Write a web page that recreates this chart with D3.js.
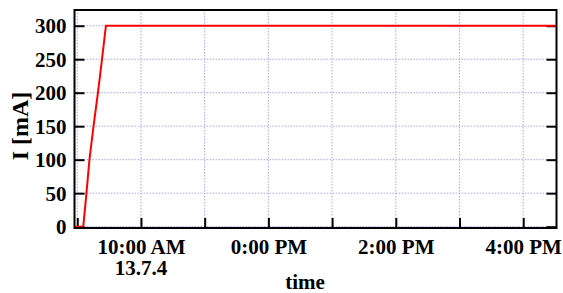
<!DOCTYPE html>
<html><head><meta charset="utf-8">
<script src="https://cdn.jsdelivr.net/npm/d3@7"></script>
<style>body{margin:0;background:#fff}svg{display:block}
text{font-family:"Liberation Serif","Times New Roman",Times,serif !important;font-weight:bold}</style>
</head><body>
<script>
// Data (time of day on 2013-07-04, current in mA)
const times = ["08:57:40","09:05:40","09:08:40","09:11:30","09:15:20","09:19:30","09:23:20","09:27:00","16:30:00"];
const values = [0,0,50,100,150,200,250,300,300];
const yTicks = [0,50,100,150,200,250,300];
const xTickHours = [9,10,11,12,13,14,15,16];
const xLabelHours = [10,12,14,16];
const xLabels = ["10:00 AM","0:00 PM","2:00 PM","4:00 PM"];
const dateLabel = "13.7.4";

const W=563,H=293;
const m={left:74.5,top:10,right:556.5,bottom:228};
const day = "2013-07-04T";
const parse = s => new Date(day+s);
const hourDate = h => new Date(2013,6,4,h,0,0);

const svg=d3.select("body").append("svg").attr("width",W).attr("height",H);
const x=d3.scaleTime().domain([parse("08:57:25"),parse("16:31:20")]).range([m.left,m.right]);
const y=d3.scaleLinear().domain([-2,323.5]).range([m.bottom,m.top]);

// grid
const g=svg.append("g").attr("stroke","#a8a8f0").attr("stroke-width",1).attr("stroke-dasharray","1.5,1.5");
yTicks.forEach(v=>g.append("line").attr("x1",m.left).attr("x2",m.right).attr("y1",y(v)).attr("y2",y(v)));
xTickHours.forEach(h=>g.append("line").attr("x1",x(hourDate(h))).attr("x2",x(hourDate(h))).attr("y1",m.top).attr("y2",m.bottom));

// axes via d3
const yAxisL=d3.axisLeft(y).tickValues(yTicks).tickSize(-10).tickPadding(18).tickFormat(d3.format("d"));
const yAxisR=d3.axisRight(y).tickValues(yTicks).tickSize(-10).tickFormat("");
const xAxisB=d3.axisBottom(x).tickValues(xTickHours.map(hourDate)).tickSize(-10).tickPadding(20)
  .tickFormat(d=>{const i=xLabelHours.indexOf(d.getHours());return i>=0?xLabels[i]:"";});

const gl=svg.append("g").attr("transform",`translate(${m.left},0)`).call(yAxisL);
const gr=svg.append("g").attr("transform",`translate(${m.right},0)`).call(yAxisR);
const gb=svg.append("g").attr("transform",`translate(0,${m.bottom})`).call(xAxisB);
[gl,gr,gb].forEach(a=>{
  a.attr("font-family",null).attr("font-size",null);
  a.select(".domain").remove();
  a.selectAll(".tick line").attr("stroke","#000").attr("stroke-width",2);
  a.selectAll("text").attr("font-size",21).attr("fill","#000");
});
gl.selectAll("text").attr("x",-8).attr("dy","0.34em");
gb.selectAll("text").attr("dy",0).attr("y",25.5);

// date label under first labeled tick
svg.append("text").attr("x",x(hourDate(xLabelHours[0]))).attr("y",275).attr("text-anchor","middle")
  .attr("font-size",21).text(dateLabel);

// line
svg.append("path").datum(times.map((t,i)=>({t:parse(t),v:values[i]})))
  .attr("fill","none").attr("stroke","#ff0000").attr("stroke-width",2)
  .attr("d",d3.line().x(d=>x(d.t)).y(d=>y(d.v)));

// frame
svg.append("rect").attr("x",m.left).attr("y",m.top).attr("width",m.right-m.left).attr("height",m.bottom-m.top)
  .attr("fill","none").attr("stroke","#000").attr("stroke-width",2);

// axis titles
svg.append("text").attr("x",305).attr("y",289).attr("text-anchor","middle")
  .attr("font-size",21).text("time");
svg.append("text").attr("transform","translate(28.3,126) rotate(-90)").attr("text-anchor","middle")
  .attr("font-size",24).text("I [mA]");
</script>
</body></html>
